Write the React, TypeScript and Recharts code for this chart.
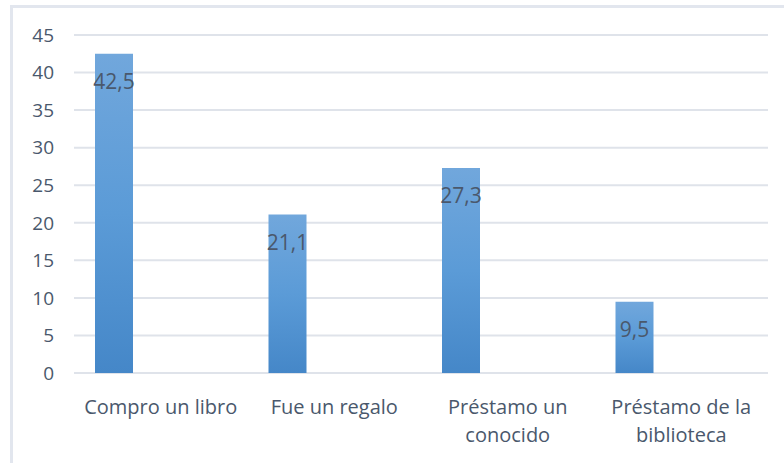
import React from 'react';
import { BarChart, Bar, XAxis, YAxis, CartesianGrid, LabelList } from 'recharts';

const categoryLines = [
  ['Compro un libro'],
  ['Fue un regalo'],
  ['Préstamo un', 'conocido'],
  ['Préstamo de la', 'biblioteca'],
];
const categories = categoryLines.map(l => l.join(' '));
const values = [42.5, 21.1, 27.3, 9.5];
const yTicks = [0, 5, 10, 15, 20, 25, 30, 35, 40, 45];

const data = categories.map((name, i) => ({
  name,
  value: values[i],
  blank: null,
}));

const textColor = '#4a586c';
const font = '"Open Sans", sans-serif';

const CategoryTick = (props: any) => {
  const { x, y, index } = props;
  const lines = categoryLines[index] || [];
  return (
    <g>
      {lines.map((line, i) => (
        <text
          key={i}
          x={x}
          y={y + 25 + i * 28}
          textAnchor="middle"
          dominantBaseline="central"
          fill={textColor}
          fontSize={20}
          fontFamily={font}
        >
          {line}
        </text>
      ))}
    </g>
  );
};

const ValueLabel = (props: any) => {
  const { x, y, width, value } = props;
  if (value == null) return null;
  return (
    <text
      x={x + width / 2}
      y={y + 27}
      textAnchor="middle"
      dominantBaseline="central"
      fill={textColor}
      fontSize={21}
      fontFamily={font}
    >
      {String(value).replace('.', ',')}
    </text>
  );
};

export default function App() {
  return (
    <div style={{ position: 'absolute', left: 0, top: 0, width: 784, height: 463, background: '#fff', overflow: 'hidden' }}>
      <div
        style={{
          position: 'absolute',
          left: 10,
          top: 5,
          width: 800,
          height: 480,
          borderLeft: '3px solid #e2e6ee',
          borderTop: '3px solid #e2e6ee',
        }}
      />
      <BarChart
        width={784}
        height={463}
        data={data}
        margin={{ top: 35, right: 16, bottom: 0, left: 0 }}
        barGap={0}
        style={{ position: 'absolute', left: 0, top: 0 }}
      >
        <defs>
          <linearGradient id="barFill" x1="0" y1="0" x2="0" y2="1">
            <stop offset="0%" stopColor="#71a7dc" />
            <stop offset="50%" stopColor="#5b9bd7" />
            <stop offset="100%" stopColor="#4587c8" />
          </linearGradient>
        </defs>
        <CartesianGrid vertical={false} stroke="#dfe3ea" strokeWidth={2} />
        <XAxis
          dataKey="name"
          axisLine={false}
          tickLine={false}
          height={90}
          interval={0}
          tick={<CategoryTick />}
        />
        <YAxis
          domain={[0, 45]}
          ticks={yTicks}
          axisLine={false}
          tickLine={false}
          tickSize={0}
          tickMargin={20}
          width={74}
          tick={{ fill: textColor, fontSize: 19, fontFamily: font }}
        />
        <Bar dataKey="value" fill="url(#barFill)" barSize={38} isAnimationActive={false}>
          <LabelList dataKey="value" content={<ValueLabel />} />
        </Bar>
        <Bar dataKey="blank" fill="none" barSize={93} isAnimationActive={false} />
      </BarChart>
    </div>
  );
}
